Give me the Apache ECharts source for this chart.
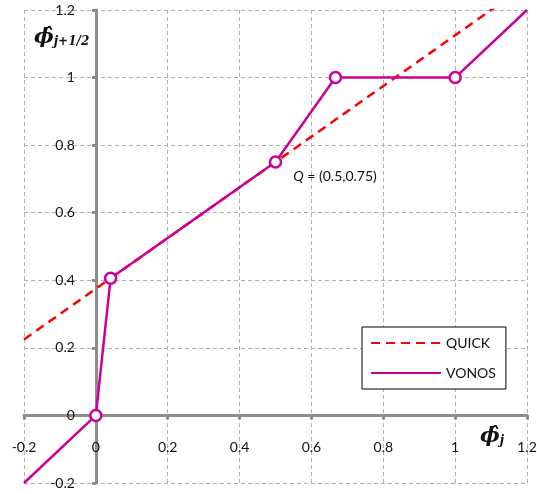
<!DOCTYPE html>
<html><head><meta charset="utf-8">
<script src="https://cdn.jsdelivr.net/npm/echarts@6/dist/echarts.min.js"></script>
<style>html,body{margin:0;padding:0;background:#fff}#c{width:537px;height:494px}</style>
</head><body><div id="c"></div>
<script>
const xTicks = [-0.2, 0, 0.2, 0.4, 0.6, 0.8, 1, 1.2];
const quickX = [-0.2, 1.2];
const quickY = [0.225, 1.275];
const vonosX = [-0.2, 0, 0.041, 0.5, 0.667, 1, 1.2];
const vonosY = [-0.2, 0, 0.406, 0.75, 1, 1, 1.2];
const markerX = [0, 0.041, 0.5, 0.667, 1];
const markerY = [0, 0.406, 0.75, 1, 1];
const annotIndex = 2;
const annotText = ['{q|Q} = (0.5,0.75)'];

const FONT = 'Lato';
const MAG = '#CC0099';
const W = 537, H = 494;
const G = {left: 24, right: 10, top: 10, bottom: 11};
const MIN = -0.2, MAX = 1.2;
const xOff = -((0 - MIN) / (MAX - MIN)) * (H - G.top - G.bottom);
const yOff = -((0 - MIN) / (MAX - MIN)) * (W - G.left - G.right);

const chart = echarts.init(document.getElementById('c'), null, {renderer: 'canvas'});
const fmt = v => { const r = Math.round(v * 10) / 10; return String(r === 0 ? 0 : r); };
const axisCommon = {
  type: 'value', min: MIN, max: MAX, interval: 0.2,
  axisLine: {onZero: false, lineStyle: {color: '#8c8c8c', width: 3}},
  axisTick: {show: true, length: 4, lineStyle: {color: '#8c8c8c', width: 3}},
  splitLine: {show: true, lineStyle: {color: '#b0b0b0', width: 1, type: [4, 3]}},
  axisLabel: {formatter: fmt, color: '#111', fontFamily: FONT, fontSize: 14}
};
chart.setOption({
  animation: false,
  grid: Object.assign({containLabel: false, outerBoundsMode: 'none'}, G),
  xAxis: Object.assign({}, axisCommon, {position: 'bottom', offset: xOff,
    axisLabel: Object.assign({}, axisCommon.axisLabel, {margin: 25})}),
  yAxis: Object.assign({}, axisCommon, {position: 'left', offset: yOff,
    axisLabel: Object.assign({}, axisCommon.axisLabel, {margin: 21})}),
  legend: {
    data: ['QUICK', 'VONOS'], orient: 'vertical', left: 362, top: 327,
    backgroundColor: '#fff', borderColor: '#000', borderWidth: 1, borderRadius: 0,
    padding: [9, 10, 9, 8], itemWidth: 70, itemHeight: 14, itemGap: 16,
    itemStyle: {opacity: 0},
    textStyle: {fontFamily: FONT, fontSize: 14, color: '#111'}
  },
  series: [
    {name: 'QUICK', type: 'line', symbol: 'none', clip: true,
     data: quickX.map((x, i) => [x, quickY[i]]),
     lineStyle: {color: '#FF0000', width: 2.5, type: [9, 6]}, itemStyle: {color: '#FF0000'}},
    {name: 'VONOS', type: 'line', symbol: 'none', clip: true,
     data: vonosX.map((x, i) => [x, vonosY[i]]),
     lineStyle: {color: MAG, width: 2.5}, itemStyle: {color: MAG}},
    {name: 'markers', type: 'scatter', symbol: 'circle', symbolSize: 11, z: 5,
     itemStyle: {color: '#fff', borderColor: MAG, borderWidth: 2.5, opacity: 1},
     data: markerX.map((x, i) => {
       const d = {value: [x, markerY[i]]};
       if (i === annotIndex) {
         d.label = {show: true, position: 'right', distance: 11, offset: [0, 14],
           formatter: annotText[0], fontFamily: FONT, fontSize: 14, color: '#111',
           rich: {q: {fontStyle: 'italic', fontFamily: FONT, fontSize: 14, color: '#111'}}};
       }
       return d;
     })}
  ],
  graphic: [
    {type: 'text', left: 34, top: 27, style: {
      text: '{p|\u03D5\u0302}{s|j+1/2}',
      rich: {p: {fontFamily: 'DejaVu Serif', fontStyle: 'italic', fontWeight: 'bold', fontSize: 21, fill: '#111'},
             s: {fontFamily: 'DejaVu Serif', fontStyle: 'italic', fontWeight: 'bold', fontSize: 12, fill: '#111', padding: [8, 0, 0, 0]}}}},
    {type: 'text', left: 480, top: 426, style: {
      text: '{p|\u03D5\u0302}{s|j}',
      rich: {p: {fontFamily: 'DejaVu Serif', fontStyle: 'italic', fontWeight: 'bold', fontSize: 21, fill: '#111'},
             s: {fontFamily: 'DejaVu Serif', fontStyle: 'italic', fontWeight: 'bold', fontSize: 12, fill: '#111', padding: [8, 0, 0, 0]}}}}
  ]
});
</script></body></html>
